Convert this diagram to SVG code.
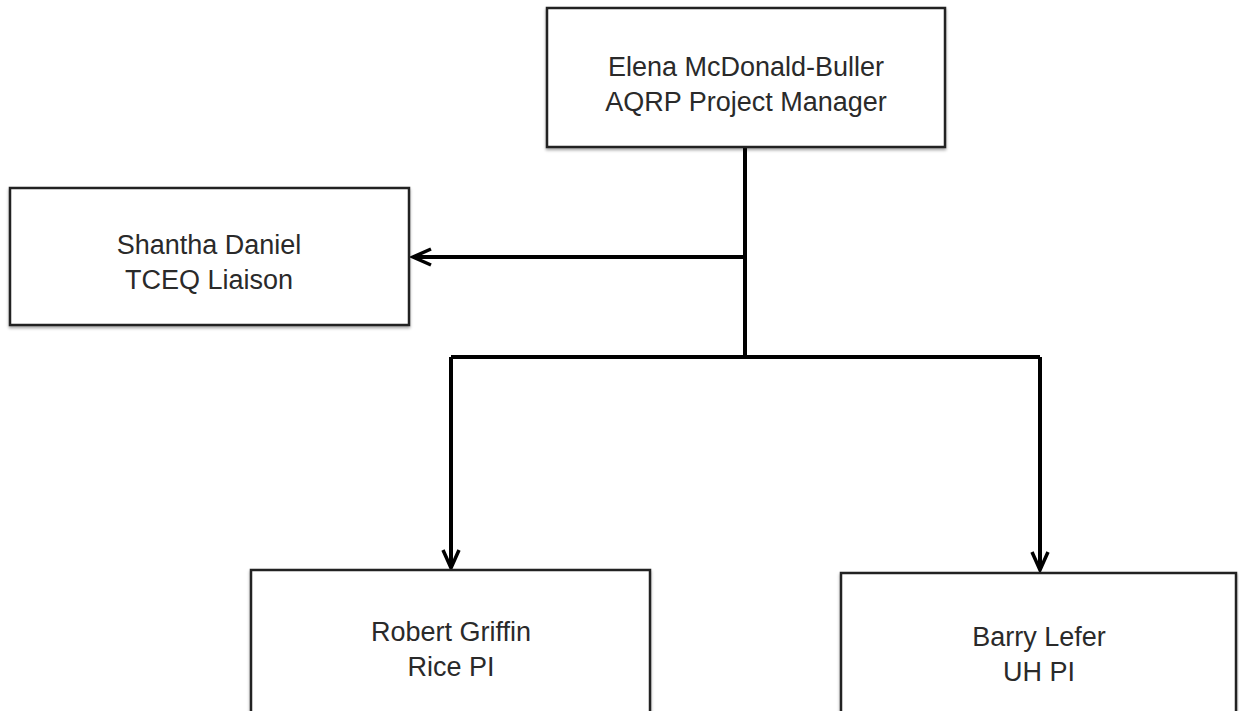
<svg xmlns="http://www.w3.org/2000/svg" width="1239" height="711" viewBox="0 0 1239 711">
<style>
.box{fill:#fff;stroke:#222;stroke-width:2.5}
.lbl{font-family:"Liberation Sans",Arial,sans-serif;font-size:27px;fill:#2a2a2a;text-anchor:middle}
.conn{fill:none;stroke:#000;stroke-width:4}
</style>
<defs>
<filter id="sh" x="-5%" y="-5%" width="110%" height="115%"><feDropShadow dx="0" dy="2" stdDeviation="1.5" flood-color="#000" flood-opacity="0.35"/></filter>
<marker id="arr" markerWidth="26" markerHeight="26" refX="21" refY="13" orient="auto" markerUnits="userSpaceOnUse" viewBox="0 0 26 26">
<polyline points="3,5 21,13 3,21" fill="none" stroke="#000" stroke-width="3.5" stroke-linejoin="miter"/>
</marker>
</defs>
<rect width="1239" height="711" fill="#fff"/>
<g id="connectors">
<path class="conn" d="M745,147 V357"/>
<path class="conn" d="M745,257 H413" marker-end="url(#arr)"/>
<path class="conn" d="M451,357 H1040"/>
<path class="conn" d="M451,357 V568" marker-end="url(#arr)"/>
<path class="conn" d="M1040,357 V570" marker-end="url(#arr)"/>
</g>
<g id="node-elena">
<rect class="box" x="547" y="8" width="398" height="139" filter="url(#sh)"/>
<text class="lbl" x="746" y="76">Elena McDonald-Buller</text>
<text class="lbl" x="746" y="111">AQRP Project Manager</text>
</g>
<g id="node-shantha">
<rect class="box" x="10" y="188" width="399" height="137" filter="url(#sh)"/>
<text class="lbl" x="209" y="254">Shantha Daniel</text>
<text class="lbl" x="209" y="289">TCEQ Liaison</text>
</g>
<g id="node-robert">
<rect class="box" x="251" y="570" width="399" height="150" filter="url(#sh)"/>
<text class="lbl" x="451" y="641">Robert Griffin</text>
<text class="lbl" x="451" y="676">Rice PI</text>
</g>
<g id="node-barry">
<rect class="box" x="841" y="573" width="395" height="150" filter="url(#sh)"/>
<text class="lbl" x="1039" y="646">Barry Lefer</text>
<text class="lbl" x="1039" y="681">UH PI</text>
</g>
</svg>
